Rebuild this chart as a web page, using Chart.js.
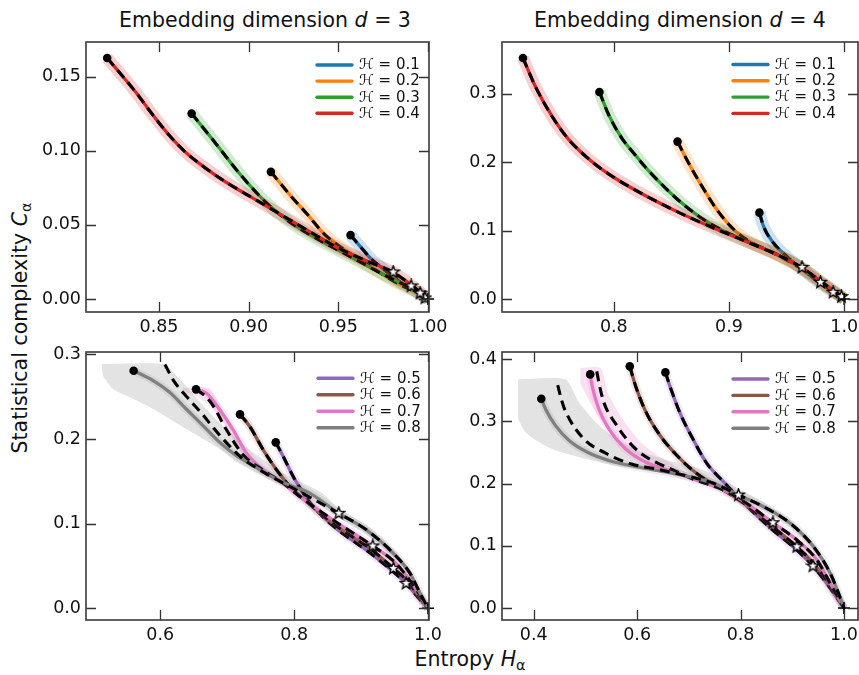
<!DOCTYPE html>
<html><head><meta charset="utf-8">
<script src="https://cdn.jsdelivr.net/npm/chart.js@4.4.1/dist/chart.umd.min.js"></script>
<style>
html,body{margin:0;padding:0;background:#fff;}
body{width:859px;height:675px;position:relative;overflow:hidden;font-family:"DejaVu Sans",sans-serif;color:#111;}
canvas{position:absolute;}
.lab{position:absolute;font-size:20.5px;white-space:nowrap;transform:translate(-50%,-50%);line-height:1;}
.rot{transform:translate(-50%,-50%) rotate(-90deg);}
sub{font-size:0.7em;vertical-align:-0.28em;line-height:0;}
</style></head><body>
<div class="lab" style="left:265px;top:20px">Embedding dimension <i>d</i> = 3</div>
<div class="lab" style="left:680px;top:20px">Embedding dimension <i>d</i> = 4</div>
<div class="lab rot" style="left:20px;top:328px">Statistical complexity <i>C</i><sub>α</sub></div>
<div class="lab" style="left:470px;top:659px">Entropy <i>H</i><sub>α</sub></div>
<canvas id="p1"></canvas><canvas id="p2"></canvas><canvas id="p3"></canvas><canvas id="p4"></canvas>
<script>
// ---------- tick values ----------
const xTicks_d3Top = [0.85, 0.90, 0.95, 1.00];
const yTicks_d3Top = [0.00, 0.05, 0.10, 0.15];
const xTicks_d4Top = [0.8, 0.9, 1.0];
const yTicks_d4Top = [0.0, 0.1, 0.2, 0.3];
const xTicks_d3Bot = [0.6, 0.8, 1.0];
const yTicks_d3Bot = [0.0, 0.1, 0.2, 0.3];
const xTicks_d4Bot = [0.4, 0.6, 0.8, 1.0];
const yTicks_d4Bot = [0.0, 0.1, 0.2, 0.3, 0.4];

// ---------- legend labels ----------
const labelsTop = ['ℋ = 0.1', 'ℋ = 0.2', 'ℋ = 0.3', 'ℋ = 0.4'];
const labelsBot = ['ℋ = 0.5', 'ℋ = 0.6', 'ℋ = 0.7', 'ℋ = 0.8'];

// ---------- d = 3, H = 0.1..0.4 (entropy, complexity) ----------
const d3_H01 = [[0.9568,0.0431],[0.9624,0.0352],[0.9680,0.0274],[0.9735,0.0218],[0.9828,0.0128],[0.9920,0.0061],[0.9976,0.0016],[1.0,0.0]];
const d3_H02 = [[0.9124,0.0858],[0.9235,0.0695],[0.9328,0.0570],[0.9420,0.0440],[0.9513,0.0350],[0.9654,0.0240],[0.9744,0.0168],[0.9840,0.0100],[0.9956,0.0032],[1.0,0.0]];
const d3_H03 = [[0.8682,0.1251],[0.8800,0.1075],[0.8950,0.0845],[0.9098,0.0650],[0.9228,0.0520],[0.9383,0.0405],[0.9561,0.0290],[0.9744,0.0170],[0.9900,0.0075],[1.0,0.0]];
const d3_H04 = [[0.8211,0.1626],[0.8280,0.1528],[0.8372,0.1393],[0.8465,0.1243],[0.8557,0.1105],[0.8650,0.0988],[0.8743,0.0898],[0.8830,0.0823],[0.8913,0.0759],[0.9050,0.0662],[0.9154,0.0588],[0.9378,0.0428],[0.9494,0.0348],[0.9661,0.0255],[0.9806,0.0180],[0.9900,0.0100],[0.9957,0.0045],[1.0,0.0]];
const d3Top_stars = [[0.9983,0.0007],[0.9956,0.0040],[0.9906,0.0088],[0.9806,0.0182]];

// ---------- d = 4, H = 0.1..0.4 ----------
const d4_H01 = [[0.9264,0.1262],[0.9301,0.1057],[0.9388,0.0814],[0.9504,0.0619],[0.9620,0.0455],[0.9794,0.0230],[0.9904,0.0105],[0.9974,0.0030],[1.0,0.0]];
const d4_H02 = [[0.8553,0.2300],[0.8635,0.2032],[0.8750,0.1690],[0.8910,0.1270],[0.9050,0.1000],[0.9185,0.0835],[0.9301,0.0738],[0.9446,0.0620],[0.9620,0.0452],[0.9794,0.0240],[0.9904,0.0112],[1.0,0.0]];
const d4_H03 = [[0.7875,0.3026],[0.7957,0.2686],[0.8072,0.2344],[0.8188,0.2101],[0.8275,0.1925],[0.8431,0.1650],[0.8577,0.1420],[0.8763,0.1180],[0.8924,0.1020],[0.9157,0.0840],[0.9446,0.0630],[0.9629,0.0455],[0.9794,0.0250],[0.9904,0.0118],[1.0,0.0]];
const d4_H04 = [[0.7211,0.3523],[0.7318,0.3109],[0.7463,0.2671],[0.7609,0.2329],[0.7811,0.2006],[0.7985,0.1794],[0.8200,0.1579],[0.8577,0.1255],[0.8866,0.1038],[0.9157,0.0834],[0.9446,0.0626],[0.9629,0.0461],[0.9794,0.0263],[0.9904,0.0126],[0.9974,0.0040],[1.0,0.0]];
const d4Top_stars = [[0.9977,0.0034],[0.9904,0.0098],[0.9794,0.0244],[0.9634,0.0463]];

// ---------- d = 3, H = 0.5..0.8 ----------
const d3_H05 = [[0.7725,0.1960],[0.7839,0.1790],[0.7988,0.1554],[0.8138,0.1358],[0.8287,0.1200],[0.8586,0.0970],[0.9175,0.0630],[0.9483,0.0430],[0.9673,0.0295],[0.9850,0.0130],[1.0,0.0]];
const d3_H06 = [[0.7191,0.2290],[0.7340,0.2144],[0.7540,0.1869],[0.7740,0.1633],[0.7939,0.1436],[0.8200,0.1250],[0.8586,0.1000],[0.9175,0.0680],[0.9483,0.0472],[0.9673,0.0340],[0.9850,0.0160],[1.0,0.0]];
const d3_H07 = [[0.6534,0.2586],[0.6694,0.2538],[0.6892,0.2341],[0.7091,0.2105],[0.7291,0.1830],[0.7540,0.1633],[0.7839,0.1476],[0.8088,0.1318],[0.8586,0.1040],[0.9175,0.0736],[0.9483,0.0560],[0.9673,0.0390],[0.9850,0.0190],[1.0,0.0]];
const d3_H07_theory = [[0.6534,0.2586],[0.6680,0.2500],[0.6800,0.2380],[0.6980,0.2120],[0.7240,0.1810],[0.7540,0.1630],[0.7839,0.1476],[0.8088,0.1318],[0.8586,0.1040],[0.9175,0.0736],[0.9483,0.0560],[0.9673,0.0390],[0.9850,0.0190],[1.0,0.0]];
const d3_H07_band = [[0.6335,0.2600],[0.6733,0.2600],[0.6882,0.2420],[0.7031,0.2160],[0.7200,0.1950],[0.7400,0.1760],[0.7600,0.1640],[0.7700,0.1580],[0.7500,0.1600],[0.7300,0.1740],[0.7100,0.1980],[0.6900,0.2240],[0.6700,0.2420],[0.6500,0.2520],[0.6335,0.2560]];
const d3_H08 = [[0.5602,0.2805],[0.5886,0.2692],[0.6135,0.2554],[0.6384,0.2357],[0.6634,0.2161],[0.6882,0.1963],[0.7132,0.1806],[0.7380,0.1688],[0.7629,0.1570],[0.7879,0.1471],[0.8238,0.1358],[0.8667,0.1122],[0.9085,0.0924],[0.9483,0.0649],[0.9732,0.0413],[0.9882,0.0177],[1.0,0.0]];
const d3_H08_theory = [[0.6070,0.2880],[0.6194,0.2695],[0.6395,0.2498],[0.6610,0.2310],[0.6843,0.2085],[0.7200,0.1790],[0.7580,0.1590],[0.7939,0.1436],[0.8287,0.1289],[0.8667,0.1122],[0.9085,0.0924],[0.9483,0.0649],[0.9732,0.0413],[0.9882,0.0177],[1.0,0.0]];
const d3_H08_band = [[0.5124,0.2884],[0.6045,0.2884],[0.6250,0.2740],[0.6395,0.2616],[0.6620,0.2410],[0.6843,0.2223],[0.7340,0.1869],[0.7839,0.1594],[0.8400,0.1370],[0.8667,0.1180],[0.9085,0.0980],[0.9483,0.0700],[0.9732,0.0450],[0.9900,0.0160],[1.0,0.0],[0.9890,0.0150],[0.9732,0.0380],[0.9483,0.0600],[0.9085,0.0870],[0.8667,0.1070],[0.8087,0.1360],[0.7629,0.1520],[0.7132,0.1730],[0.6882,0.1884],[0.6384,0.2120],[0.5886,0.2357],[0.5538,0.2495],[0.5289,0.2593],[0.5140,0.2750]];
const d3Bot_stars = [[0.9673,0.0295],[0.9483,0.0472],[0.9175,0.0736],[0.8667,0.1122]];

// ---------- d = 4, H = 0.5..0.8 ----------
const d4_H05 = [[0.6547,0.3789],[0.6638,0.3558],[0.6832,0.3130],[0.7089,0.2701],[0.7348,0.2326],[0.7670,0.2030],[0.8122,0.1640],[0.8600,0.1270],[0.9090,0.0930],[0.9400,0.0675],[0.9680,0.0380],[0.9900,0.0120],[1.0,0.0]];
const d4_H06 = [[0.5858,0.3886],[0.5967,0.3580],[0.6160,0.3170],[0.6430,0.2790],[0.6750,0.2470],[0.7140,0.2170],[0.7606,0.1930],[0.8122,0.1650],[0.8600,0.1320],[0.9090,0.0986],[0.9400,0.0730],[0.9680,0.0430],[0.9900,0.0140],[1.0,0.0]];
const d4_H07 = [[0.5093,0.3757],[0.5128,0.3580],[0.5257,0.3204],[0.5451,0.2883],[0.5774,0.2561],[0.6161,0.2347],[0.6612,0.2214],[0.7065,0.2079],[0.7670,0.1897],[0.8122,0.1680],[0.8625,0.1371],[0.9090,0.1093],[0.9477,0.0772],[0.9735,0.0397],[0.9900,0.0150],[1.0,0.0]];
const d4_H07_theory = [[0.5219,0.3805],[0.5280,0.3550],[0.5354,0.3310],[0.5587,0.2960],[0.5897,0.2620],[0.6210,0.2410],[0.6480,0.2299],[0.6800,0.2180],[0.7065,0.2079],[0.7670,0.1897],[0.8122,0.1680],[0.8625,0.1371],[0.9090,0.1093],[0.9477,0.0772],[0.9735,0.0397],[0.9900,0.0150],[1.0,0.0]];
const d4_H07_band = [[0.4903,0.3859],[0.5293,0.3859],[0.5450,0.3420],[0.5806,0.2937],[0.6064,0.2669],[0.6386,0.2455],[0.6700,0.2300],[0.7000,0.2150],[0.6700,0.2230],[0.6400,0.2330],[0.6000,0.2460],[0.5742,0.2616],[0.5419,0.2883],[0.5161,0.3204],[0.5000,0.3450],[0.4903,0.3606]];
const d4_H08 = [[0.4147,0.3365],[0.4235,0.3190],[0.4430,0.2925],[0.4690,0.2690],[0.5050,0.2500],[0.5500,0.2360],[0.6000,0.2270],[0.6600,0.2180],[0.7130,0.2090],[0.7476,0.2005],[0.7960,0.1817],[0.8444,0.1629],[0.8960,0.1362],[0.9412,0.0986],[0.9735,0.0558],[0.9895,0.0236],[1.0,0.0]];
const d4_H08_theory = [[0.4464,0.3585],[0.4533,0.3360],[0.4606,0.3180],[0.4954,0.2733],[0.5374,0.2497],[0.5893,0.2315],[0.6338,0.2240],[0.6830,0.2150],[0.7476,0.2005],[0.7960,0.1817],[0.8444,0.1629],[0.8960,0.1362],[0.9412,0.0986],[0.9735,0.0558],[0.9895,0.0236],[1.0,0.0]];
const d4_H08_band = [[0.3697,0.3677],[0.4612,0.3677],[0.4871,0.3312],[0.5193,0.2990],[0.5581,0.2722],[0.6097,0.2508],[0.6612,0.2374],[0.7127,0.2267],[0.7600,0.2100],[0.8000,0.1900],[0.8444,0.1700],[0.8960,0.1420],[0.9412,0.1040],[0.9735,0.0600],[0.9900,0.0250],[1.0,0.0],[0.9890,0.0220],[0.9735,0.0510],[0.9412,0.0930],[0.8960,0.1300],[0.8444,0.1570],[0.8000,0.1760],[0.7600,0.1940],[0.6930,0.2120],[0.6290,0.2200],[0.5645,0.2280],[0.4998,0.2400],[0.4418,0.2535],[0.4097,0.2669],[0.3838,0.2830],[0.3697,0.3043]];
const d4Bot_stars = [[0.9400,0.0675],[0.9090,0.0986],[0.8625,0.1371],[0.7960,0.1817]];

const originPoint = [[1.0, 0.0]];

// ---------- styles ----------
const topColors = ['#1f77b4', '#ff7f0e', '#2ca02c', '#d62728'];
const botColors = ['#9467bd', '#8c564b', '#e377c2', '#7f7f7f'];

const panels = [
  {id:'p1', L:86, T:42, R:429, B:312, x:[0.8093,1.00056], y:[-0.00877,0.1734], xt:xTicks_d3Top, yt:yTicks_d3Top, xd:2, yd:2,
   labels:labelsTop, colors:topColors, curves:[d3_H01,d3_H02,d3_H03,d3_H04], theory:[null,null,null,null], shapes:[null,null,null,null],
   stars:d3Top_stars, bandW:12, bandA:0.22, leg:{dx:112, dy:23, sp:16.1}},
  {id:'p2', L:502, T:42, R:857.5, B:312, x:[0.7029,1.0120], y:[-0.019,0.3756], xt:xTicks_d4Top, yt:yTicks_d4Top, xd:1, yd:1,
   labels:labelsTop, colors:topColors, curves:[d4_H01,d4_H02,d4_H03,d4_H04], theory:[null,null,null,null], shapes:[null,null,null,null],
   stars:d4Top_stars, bandW:12, bandA:0.22, leg:{dx:125, dy:22.5, sp:16.3}},
  {id:'p3', L:86, T:352, R:429, B:620, x:[0.489,1.0015], y:[-0.0138,0.3027], xt:xTicks_d3Bot, yt:yTicks_d3Bot, xd:1, yd:1,
   labels:labelsBot, colors:botColors, curves:[d3_H05,d3_H06,d3_H07,d3_H08], theory:[null,null,d3_H07_theory,d3_H08_theory], shapes:[null,null,d3_H07_band,d3_H08_band],
   stars:d3Bot_stars, bandW:8, bandA:0.15, leg:{dx:111, dy:26.3, sp:16.5}},
  {id:'p4', L:502, T:352, R:857.5, B:620, x:[0.3387,1.0271], y:[-0.0193,0.4117], xt:xTicks_d4Bot, yt:yTicks_d4Bot, xd:1, yd:1,
   labels:labelsBot, colors:botColors, curves:[d4_H05,d4_H06,d4_H07,d4_H08], theory:[null,null,d4_H07_theory,d4_H08_theory], shapes:[null,null,d4_H07_band,d4_H08_band],
   stars:d4Bot_stars, bandW:8, bandA:0.15, leg:{dx:125, dy:27, sp:16.4}}
];

Chart.defaults.font.family = '"DejaVu Sans", sans-serif';

function rgba(hex, a){ const n = parseInt(hex.slice(1),16); return `rgba(${n>>16},${(n>>8)&255},${n&255},${a})`; }
const pts = arr => arr.map(p => ({x:p[0], y:p[1]}));

const starImg = (() => {
  const c = document.createElement('canvas'); const s = 15; c.width = c.height = s;
  const g = c.getContext('2d'); g.beginPath();
  for (let i = 0; i < 10; i++) { const r = i % 2 ? 2.6 : 6.3; const a = -Math.PI/2 + i*Math.PI/5; g.lineTo(s/2 + r*Math.cos(a), s/2 + r*Math.sin(a)); }
  g.closePath(); g.fillStyle = '#fff'; g.fill(); g.lineWidth = 1.3; g.strokeStyle = '#000'; g.stroke();
  return c;
})();

const frameTicks = {
  id:'frameTicks',
  afterDraw(chart){
    const {ctx, chartArea:a, scales:{x, y}} = chart;
    ctx.save();
    ctx.strokeStyle = '#333'; ctx.lineWidth = 1.3;
    const tl = 10;
    ctx.beginPath();
    x.ticks.forEach(t => { const p = Math.round(x.getPixelForValue(t.value)) + 0.5;
      ctx.moveTo(p, a.bottom); ctx.lineTo(p, a.bottom - tl); ctx.moveTo(p, a.top); ctx.lineTo(p, a.top + tl); });
    y.ticks.forEach(t => { const p = Math.round(y.getPixelForValue(t.value)) + 0.5;
      ctx.moveTo(a.left, p); ctx.lineTo(a.left + tl, p); ctx.moveTo(a.right, p); ctx.lineTo(a.right - tl, p); });
    ctx.stroke();
    ctx.lineWidth = 1.6; ctx.strokeStyle = '#3a3a3a';
    ctx.strokeRect(a.left, a.top, a.right - a.left, a.bottom - a.top);
    ctx.restore();
  }
};

const inLegend = {
  id:'inLegend',
  afterDraw(chart, args, o){
    const {ctx, chartArea:a} = chart;
    ctx.save();
    ctx.font = '15px "DejaVu Sans"'; ctx.textBaseline = 'middle'; ctx.fillStyle = '#111';
    o.items.forEach((it, i) => {
      const yy = a.top + o.dy + i*o.sp; const x0 = a.right - o.dx;
      ctx.strokeStyle = it.color; ctx.lineWidth = 3.4; ctx.lineCap = 'round';
      ctx.beginPath(); ctx.moveTo(x0, yy); ctx.lineTo(x0 + 35, yy); ctx.stroke();
      ctx.fillText(it.label, x0 + 42, yy + 0.5);
    });
    ctx.restore();
  }
};

function buildPanel(P){
  const cv = document.getElementById(P.id);
  const padL = 60, padT = 18, padR = 26, padB = 34;
  cv.width = Math.round(P.R - P.L + padL + padR); cv.height = P.B - P.T + padT + padB;
  cv.style.left = (P.L - padL) + 'px'; cv.style.top = (P.T - padT) + 'px';
  const seq = [];
  P.curves.forEach((c, i) => {
    if (P.shapes[i]) seq.push({data:pts(P.shapes[i]), borderWidth:0, borderColor:'rgba(0,0,0,0)', backgroundColor:rgba(P.colors[i], 0.22), fill:'shape', tension:0.2, pointRadius:0});
  });
  P.curves.forEach((c, i) => {
    seq.push({data:pts(c), borderColor:rgba(P.colors[i], P.bandA), borderWidth:P.bandW, fill:false, pointRadius:0, cubicInterpolationMode:'monotone', borderCapStyle:'butt'});
    seq.push({data:pts(c), borderColor:P.colors[i], borderWidth:3.3, fill:false, pointRadius:0, cubicInterpolationMode:'monotone', borderCapStyle:'round'});
    seq.push({data:pts(P.theory[i] || c), borderColor:'#000', borderWidth:3.1, borderDash:[10,6], fill:false, pointRadius:0, cubicInterpolationMode:'monotone', borderCapStyle:'butt'});
  });
  seq.push({data:pts(P.curves.map(c => c[0])), showLine:false, fill:false, pointRadius:4.3, pointBackgroundColor:'#000', pointBorderColor:'#000', pointBorderWidth:0, clip:false});
  seq.push({data:pts(P.stars), showLine:false, fill:false, pointStyle:starImg, pointRadius:7, clip:false});
  seq.push({data:pts(originPoint), showLine:false, fill:false, pointStyle:'cross', pointRadius:6, pointBorderColor:'#000', pointBorderWidth:1.6, clip:false});
  seq.forEach((d, i) => { d.order = seq.length - i; d.type = 'line'; d.pointHoverRadius = 0; });

  new Chart(cv, {
    type:'line',
    data:{datasets:seq},
    options:{
      responsive:false, animation:false, devicePixelRatio:1, events:[],
      layout:{padding:{left:0, top:padT, right:padR, bottom:0}},
      plugins:{legend:{display:false}, tooltip:{enabled:false},
        inLegend:{items:P.labels.map((l, i) => ({label:l, color:P.colors[i]})), dx:P.leg.dx, dy:P.leg.dy, sp:P.leg.sp}},
      scales:{
        x:{type:'linear', min:P.x[0], max:P.x[1], grid:{display:false, drawTicks:false}, border:{display:false},
           ticks:{autoSkip:false, maxRotation:0, padding:5, color:'#111', font:{size:17.5}, callback:v => Number(v).toFixed(P.xd)},
           afterBuildTicks:s => { s.ticks = P.xt.map(v => ({value:v})); }, afterFit:s => { s.height = padB; }},
        y:{type:'linear', min:P.y[0], max:P.y[1], grid:{display:false, drawTicks:false}, border:{display:false},
           ticks:{autoSkip:false, padding:5, color:'#111', font:{size:17.5}, callback:v => Number(v).toFixed(P.yd)},
           afterBuildTicks:s => { s.ticks = P.yt.map(v => ({value:v})); }, afterFit:s => { s.width = padL; }}
      }
    },
    plugins:[inLegend, frameTicks]
  });
}
panels.forEach(buildPanel);
</script>
</body></html>
